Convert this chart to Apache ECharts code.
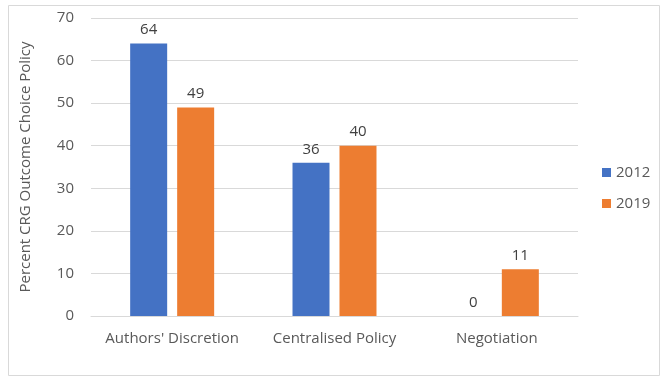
<!DOCTYPE html>
<html>
<head>
<meta charset="utf-8" />
<title>CRG Outcome Choice Policy</title>
<script src="https://cdn.jsdelivr.net/npm/echarts@6/dist/echarts.min.js"></script>
<style>
  html, body { margin: 0; padding: 0; background: #fff; }
  #main { width: 662px; height: 380px; }
</style>
</head>
<body>
<div id="main"></div>
<script>
var categories = ["Authors' Discretion", "Centralised Policy", "Negotiation"];
var years = ["2012", "2019"];
var values2012 = [64, 36, 0];
var values2019 = [49, 40, 11];
var yTicks = [0, 10, 20, 30, 40, 50, 60, 70];

var fontFam = "'Open Sans', 'Noto Sans', sans-serif";
var chart = echarts.init(document.getElementById('main'));

var option = {
    animation: false,
    textStyle: { fontFamily: fontFam },
    graphic: [{
        type: 'rect',
        shape: { x: 8.5, y: 5.5, width: 651, height: 370 },
        style: { fill: 'none', stroke: '#d9d9d9', lineWidth: 1 },
        silent: true
    }],
    grid: { left: 91, right: 84, top: 18, bottom: 64 },
    legend: {
        orient: 'vertical',
        left: 597,
        top: 160,
        itemWidth: 9,
        itemHeight: 9,
        itemGap: 16,
        icon: 'rect',
        textStyle: { fontSize: 15, color: '#595959', fontFamily: fontFam },
        data: years
    },
    xAxis: {
        type: 'category',
        data: categories,
        axisLine: { lineStyle: { color: '#d9d9d9' } },
        axisTick: { show: false },
        axisLabel: { fontSize: 15, color: '#595959', margin: 15, interval: 0 }
    },
    yAxis: {
        type: 'value',
        min: yTicks[0],
        max: yTicks[yTicks.length - 1],
        interval: 10,
        name: 'Percent CRG Outcome Choice Policy',
        nameLocation: 'middle',
        nameGap: 58,
        nameTextStyle: { fontSize: 15, color: '#595959' },
        axisLine: { show: false },
        axisTick: { show: false },
        axisLabel: { fontSize: 15, color: '#595959', margin: 17 },
        splitLine: { lineStyle: { color: '#d9d9d9' } }
    },
    series: [{
        name: years[0],
        type: 'bar',
        data: values2012,
        barWidth: 37,
        barGap: '27%',
        itemStyle: { color: '#4472c4' },
        label: { show: true, position: 'top', fontSize: 15, color: '#404040', distance: 6 }
    }, {
        name: years[1],
        type: 'bar',
        data: values2019,
        barWidth: 37,
        itemStyle: { color: '#ed7d31' },
        label: { show: true, position: 'top', fontSize: 15, color: '#404040', distance: 6 }
    }]
};
chart.setOption(option);
</script>
</body>
</html>
